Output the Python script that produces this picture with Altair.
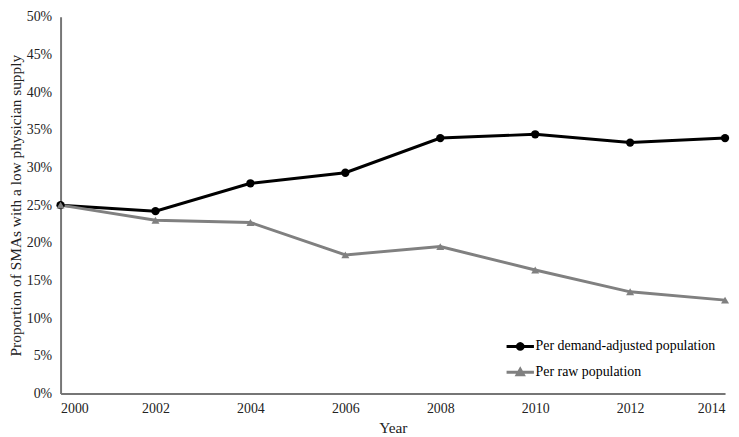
import math
import altair as alt
import pandas as pd

years = [2000, 2002, 2004, 2006, 2008, 2010, 2012, 2014]
demand_adjusted = [25.0, 24.2, 27.9, 29.3, 33.9, 34.4, 33.3, 33.9]
raw_population = [25.0, 23.0, 22.7, 18.4, 19.5, 16.4, 13.5, 12.4]
series_names = ["Per demand-adjusted population", "Per raw population"]
series_colors = ["#000000", "#808080"]
y_ticks = [0, 5, 10, 15, 20, 25, 30, 35, 40, 45, 50]

rows = []
for yr, a, b in zip(years, demand_adjusted, raw_population):
    rows.append({"year": yr, "value": a, "series": series_names[0]})
    rows.append({"year": yr, "value": b, "series": series_names[1]})
df = pd.DataFrame(rows)

FONT = "Liberation Serif"

x = alt.X(
    "year:Q",
    scale=alt.Scale(domain=[2000, 2014], nice=False, zero=False),
    axis=alt.Axis(values=years, format="d", title="Year", ticks=False, grid=False,
                  labelPadding=8, titlePadding=5),
)
y = alt.Y(
    "value:Q",
    scale=alt.Scale(domain=[0, 50], nice=False),
    axis=alt.Axis(values=y_ticks, labelExpr="datum.value + '%'", ticks=False, grid=False,
                  title="Proportion of SMAs with a low physician supply",
                  labelPadding=9, titlePadding=3),
)
color_scale = alt.Scale(domain=series_names, range=series_colors)

# legend glyphs: a line segment with a marker (style only)
r = 0.24
poly = " ".join(
    ("M" if i == 0 else "L") + f"{r * math.cos(2 * math.pi * i / 16):.3f},{r * math.sin(2 * math.pi * i / 16):.3f}"
    for i in range(16)
)
circle_path = "M-1.15,0L1.15,0Z " + poly + " Z"
tri_path = "M-1.15,0L1.15,0Z M-0.26,0.2L0,-0.26L0.26,0.2Z"

leg = alt.Legend(
    title=None, orient="none", legendX=450, legendY=319,
    labelFont=FONT, labelFontSize=14, labelColor="#000000", labelOffset=2, labelLimit=0,
    symbolSize=576, symbolStrokeWidth=3, symbolOpacity=1, rowPadding=3,
)

base = alt.Chart(df)

lines = base.mark_line(strokeWidth=3).encode(
    x=x, y=y, color=alt.Color("series:N", scale=color_scale, legend=None)
)

circles = base.transform_filter(alt.datum.series == series_names[0]).mark_point(
    shape="circle", filled=True, size=70, opacity=1
).encode(x=x, y=y, color=alt.Color("series:N", scale=color_scale, legend=None))

triangles = base.transform_filter(alt.datum.series == series_names[1]).mark_point(
    shape="triangle-up", filled=True, size=65, opacity=1
).encode(x=x, y=y, color=alt.Color("series:N", scale=color_scale, legend=None))

legend_layer = base.mark_point(filled=True, opacity=0).encode(
    x=x, y=y,
    fill=alt.Fill("series:N", scale=color_scale, legend=leg),
    stroke=alt.Stroke("series:N", scale=color_scale, legend=leg),
    shape=alt.Shape("series:N", scale=alt.Scale(domain=series_names, range=[circle_path, tri_path]), legend=leg),
)

chart = alt.layer(lines, circles, triangles, legend_layer).resolve_legend(
    color="independent", fill="independent", stroke="independent", shape="independent"
).properties(
    width=670, height=380, padding={"left": 0, "top": 0, "right": 0, "bottom": 0},
    background="white",
).configure_view(stroke=None).configure_axis(
    labelFont=FONT, labelFontSize=14, labelColor="#222222",
    titleFont=FONT, titleFontSize=15.5, titleFontWeight="normal", titleColor="#222222",
    domainColor="#767676", domainWidth=2,
)

chart.save("out.html", embed_options={"renderer": "svg", "actions": False})
